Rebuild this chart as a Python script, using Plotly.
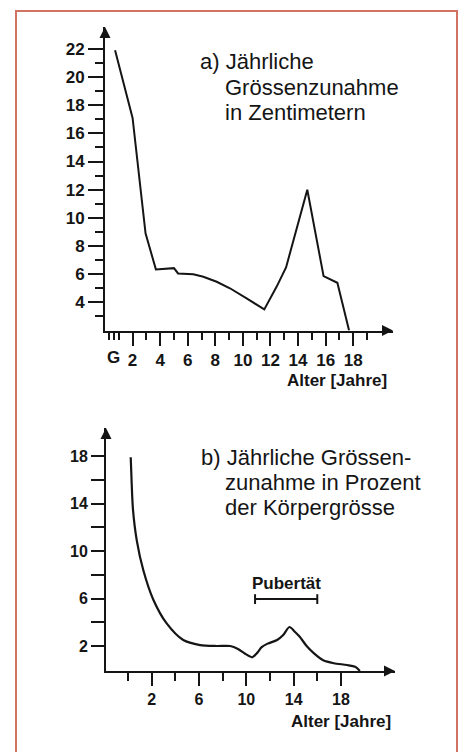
import plotly.graph_objects as go

W, H = 465, 752

# ---- Chart a: yearly growth in centimetres ----
a_age = [0.73, 2.0, 2.94, 3.69, 5.0, 5.3, 6.4, 7.13, 8.1, 9.06, 10.27, 11.55, 12.44, 13.13, 14.67, 15.85, 16.85, 17.7]
a_cm = [21.9, 17.1, 8.9, 6.34, 6.43, 6.05, 6.0, 5.82, 5.46, 5.0, 4.28, 3.5, 5.1, 6.48, 12.0, 5.86, 5.39, 2.0]
a_xticks = [2, 4, 6, 8, 10, 12, 14, 16, 18]
a_xminor = [0.31, 0.65, 1, 3, 5, 7, 9, 11, 13, 15, 17, 19]
a_yticks = [4, 6, 8, 10, 12, 14, 16, 18, 20, 22]
a_yminor = [3, 5, 7, 9, 11, 13, 15, 17, 19, 21]
a_birth_label = "G"
a_birth_pos = 0.65

# ---- Chart b: yearly growth in percent of body height ----
b_age = [0.23, 0.3, 0.42, 0.74, 1.29, 2.14, 3.27, 4.67, 6.09, 7.5, 8.64, 9.3, 9.9, 10.5, 10.9, 11.3,
         11.8, 12.6, 13.1, 13.65, 14.1, 14.5, 15.1, 15.7, 16.5, 17.4, 18.5, 19.2, 19.6]
b_pct = [17.9, 16.0, 13.5, 10.9, 8.4, 5.9, 3.9, 2.5, 2.08, 2.0, 2.0, 1.75, 1.35, 1.05, 1.4, 1.9,
         2.2, 2.5, 2.9, 3.6, 3.2, 2.8, 2.0, 1.4, 0.8, 0.55, 0.4, 0.25, -0.1]
b_xticks = [2, 6, 10, 14, 18]
b_xminor = [0, 4, 8, 12, 16]
b_yticks = [2, 6, 10, 14, 18]
b_yminor = [4, 8, 12, 16]
puberty_span = [10.74, 16.0]
puberty_level = 5.95

FONT = "Liberation Sans, Arial, Helvetica, sans-serif"
INK = "#151515"


def fx(px):
    return px / W


def fy(py):
    return 1 - py / H


fig = go.Figure()

fig.add_trace(go.Scatter(x=a_age, y=a_cm, mode="lines", xaxis="x", yaxis="y",
                         line=dict(color=INK, width=2), hoverinfo="skip"))
fig.add_trace(go.Scatter(x=b_age, y=b_pct, mode="lines", xaxis="x2", yaxis="y2",
                         line=dict(color=INK, width=2.2, shape="spline", smoothing=0.8),
                         hoverinfo="skip"))
fig.add_trace(go.Scatter(x=puberty_span, y=[puberty_level] * 2, mode="lines+markers",
                         xaxis="x2", yaxis="y2",
                         line=dict(color=INK, width=2),
                         marker=dict(symbol="line-ns-open", size=7, line=dict(color=INK, width=2)),
                         hoverinfo="skip"))

axis_common = dict(showgrid=False, zeroline=False, showline=True, linecolor=INK, linewidth=2,
                   ticks="outside", tickcolor=INK, tickwidth=2, fixedrange=True)

fig.update_layout(
    width=W, height=H,
    margin=dict(l=0, r=0, t=0, b=0),
    paper_bgcolor="white", plot_bgcolor="rgba(0,0,0,0)",
    showlegend=False,
    font=dict(family=FONT, color=INK),
    xaxis=dict(axis_common, domain=[fx(105), fx(393)], range=[0, (393 - 105) / 13.79],
               anchor="y", tickmode="array", tickvals=a_xticks, ticktext=[str(v) for v in a_xticks],
               ticklen=13,
               tickfont=dict(size=17, weight="bold", family=FONT, color=INK),
               minor=dict(tickmode="array", tickvals=a_xminor, ticklen=7, tickwidth=2,
                          tickcolor=INK, ticks="outside")),
    yaxis=dict(axis_common, domain=[fy(330.5), fy(27)], range=[2, 2 + (330.5 - 27) / 14.08],
               anchor="x", tickmode="array", tickvals=a_yticks, ticktext=[str(v) for v in a_yticks],
               ticklen=15, tickfont=dict(size=17, weight="bold", family=FONT, color=INK),
               minor=dict(tickmode="array", tickvals=a_yminor, ticklen=8, tickwidth=2,
                          tickcolor=INK, ticks="outside")),
    xaxis2=dict(axis_common, domain=[fx(106), fx(395)],
                range=[(106 - 128) / 11.83, (395 - 128) / 11.83],
                anchor="y2", tickmode="array", tickvals=b_xticks, ticktext=[str(v) for v in b_xticks],
                ticklen=13, tickfont=dict(size=16, weight="bold", family=FONT, color=INK),
                minor=dict(tickmode="array", tickvals=b_xminor, ticklen=8, tickwidth=2,
                           tickcolor=INK, ticks="outside")),
    yaxis2=dict(axis_common, domain=[fy(671), fy(428)],
                range=[-(671 - 669.75) / 11.875, 18 + (456 - 428) / 11.875],
                anchor="x2", tickmode="array", tickvals=b_yticks, ticktext=[str(v) for v in b_yticks],
                ticklen=13, tickfont=dict(size=16, weight="bold", family=FONT, color=INK),
                minor=dict(tickmode="array", tickvals=b_yminor, ticklen=13, tickwidth=2,
                           tickcolor=INK, ticks="outside")),
)

# frame
fig.add_shape(type="rect", xref="paper", yref="paper", x0=fx(16), x1=fx(457), y0=fy(780), y1=fy(11),
              line=dict(color="#d27262", width=2), layer="below")

ann = []
# arrowheads on axes
for (x, y, ax, ay) in [(393, 330.5, -12, 0), (105, 27, 0, 12), (395, 671, -12, 0), (106, 428, 0, 12)]:
    ann.append(dict(x=fx(x), y=fy(y), xref="paper", yref="paper", ax=ax, ay=ay, text="",
                    showarrow=True, arrowhead=2, arrowsize=1.1, arrowwidth=2, arrowcolor=INK,
                    standoff=0, startstandoff=0))

title_font = dict(family=FONT, size=22, color=INK)
for (txt, x, y) in [("a) Jährliche", 198, 61.7), ("Grössenzunahme", 222.7, 87.3),
                    ("in Zentimetern", 222.7, 112.7),
                    ("b) Jährliche Grössen-", 199.3, 457.3), ("zunahme in Prozent", 223.3, 482.7),
                    ("der Körpergrösse", 223.3, 507.3)]:
    ann.append(dict(x=fx(x), y=fy(y), xref="paper", yref="paper", text=txt, showarrow=False,
                    xanchor="left", yanchor="middle", font=title_font))

bold = dict(family=FONT, size=17, color=INK, weight="bold")
ann.append(dict(x=fx(389), y=fy(380), xref="paper", yref="paper", text="Alter [Jahre]",
                showarrow=False, xanchor="right", yanchor="middle", font=bold))
ann.append(dict(x=fx(393), y=fy(721), xref="paper", yref="paper", text="Alter [Jahre]",
                showarrow=False, xanchor="right", yanchor="middle", font=bold))
ann.append(dict(x=a_birth_pos, y=fy(357.5), xref="x", yref="paper", text=a_birth_label,
                showarrow=False, xanchor="center", yanchor="middle",
                font=dict(family=FONT, size=17, color=INK, weight="bold")))
ann.append(dict(x=sum(puberty_span) / 2, y=fy(583), xref="x2", yref="paper", text="Pubertät",
                showarrow=False, xanchor="center", yanchor="middle", font=bold))

fig.update_layout(annotations=ann)

fig.write_html("out.html", config={"displayModeBar": False},
               post_script="document.body.style.margin='0px';")
